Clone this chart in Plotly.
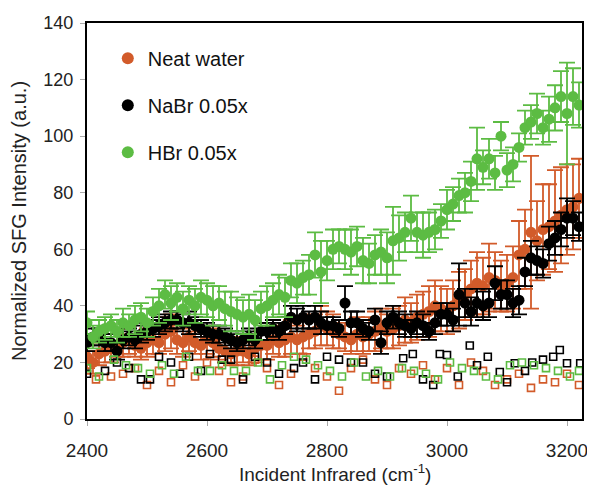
import plotly.graph_objects as go

x_ir = [2400, 2410, 2420, 2430, 2440, 2450, 2460, 2470, 2480, 2490,
        2500, 2510, 2520, 2530, 2540, 2550, 2560, 2570, 2580, 2590,
        2600, 2610, 2620, 2630, 2640, 2650, 2660, 2670, 2680, 2690,
        2700, 2710, 2720, 2730, 2740, 2750, 2760, 2770, 2780, 2790,
        2800, 2810, 2820, 2830, 2840, 2850, 2860, 2870, 2880, 2890,
        2900, 2910, 2920, 2930, 2940, 2950, 2960, 2970, 2980, 2990,
        3000, 3010, 3020, 3030, 3040, 3050, 3060, 3070, 3080, 3090,
        3100, 3110, 3120, 3130, 3140, 3150, 3160, 3170, 3180, 3190,
        3200, 3210, 3220]

water = [22, 20, 23, 24, 25, 26, 27, 28, 26, 25,
         27, 28, 27, 30, 31, 28, 27, 29, 27, 26,
         28, 27, 25, 24, 23, 24, 24, 23, 25, 26,
         26, 28, 27, 28, 29, 28, 29, 30, 31, 33,
         32, 31, 30, 29, 28, 30, 29, 30, 31, 32,
         31, 32, 33, 35, 34, 36, 37, 38, 40, 39,
         38, 40, 42, 44, 46, 48, 47, 50, 49, 47,
         48, 50, 58, 60, 66, 63, 67, 68, 70, 72,
         74, 75, 78]
water_err = [4, 4, 4, 4, 5, 4, 5, 5, 4, 4,
             5, 5, 4, 6, 6, 5, 5, 5, 4, 5,
             5, 5, 4, 4, 4, 5, 4, 4, 5, 5,
             5, 5, 5, 6, 6, 5, 6, 5, 6, 7,
             6, 6, 5, 5, 5, 6, 6, 6, 7, 7,
             6, 7, 7, 8, 7, 8, 8, 9, 9, 8,
             8, 9, 10, 9, 10, 11, 10, 12, 10, 9,
             10, 11, 12, 14, 27, 14, 16, 15, 18, 17,
             16, 15, 14]

nabr = [27, 29, 29, 27, 27, 24, 28, 29, 28, 30,
        31, 32, 33, 34, 35, 35, 34, 34, 33, 32,
        31, 30, 30, 29, 28, 27, 28, 29, 28, 31,
        31, 32, 31, 33, 36, 35, 36, 35, 36, 34,
        33, 33, 32, 41, 34, 34, 32, 31, 35, 27,
        34, 36, 34, 33, 32, 34, 33, 31, 34, 37,
        37, 35, 44, 41, 38, 41, 40, 41, 48, 44,
        44, 41, 42, 52, 57, 56, 55, 62, 64, 67,
        71, 71, 68]
nabr_err = [3, 3, 3, 3, 3, 3, 3, 3, 3, 3,
            3, 3, 3, 3, 3, 3, 3, 4, 3, 3,
            3, 3, 3, 3, 3, 3, 3, 3, 3, 3,
            3, 3, 3, 3, 4, 4, 4, 3, 4, 4,
            3, 3, 3, 6, 4, 4, 3, 3, 4, 4,
            4, 4, 4, 4, 3, 4, 4, 3, 4, 4,
            4, 4, 11, 5, 5, 5, 5, 5, 6, 5,
            5, 5, 5, 5, 6, 5, 5, 6, 6, 6,
            7, 6, 5]

hbr = [34, 29, 31, 32, 33, 31, 34, 33, 35, 36,
       34, 38, 40, 44, 41, 43, 39, 42, 40, 43,
       42, 40, 41, 39, 38, 37, 36, 37, 35, 39,
       40, 42, 44, 43, 49, 48, 50, 51, 58, 52,
       56, 60, 61, 60, 59, 61, 56, 55, 58, 59,
       57, 63, 64, 66, 71, 66, 65, 66, 67, 70,
       74, 76, 79, 80, 84, 92, 89, 92, 87, 100,
       88, 90, 96, 103, 105, 108, 103, 106, 110, 114,
       108, 114, 111]
hbr_err = [4, 4, 4, 4, 4, 4, 5, 4, 5, 5,
           5, 5, 6, 5, 6, 5, 6, 5, 6, 6,
           6, 7, 6, 6, 7, 6, 6, 7, 7, 6,
           7, 6, 7, 7, 6, 7, 6, 7, 8, 11,
           7, 7, 6, 7, 8, 7, 8, 7, 7, 8,
           9, 12, 8, 7, 8, 7, 8, 7, 7, 6,
           7, 6, 6, 7, 7, 11, 6, 7, 6, 5,
           6, 6, 5, 6, 6, 7, 6, 8, 8, 9,
           18, 10, 8]

x_sq_water = [2400, 2415, 2440, 2460, 2480, 2500, 2520, 2540, 2560, 2580,
              2600, 2620, 2640, 2660, 2680, 2700, 2720, 2740, 2760, 2780,
              2800, 2820, 2840, 2860, 2880, 2900, 2920, 2940, 2960, 2980,
              3000, 3020, 3040, 3060, 3080, 3100, 3120, 3140, 3160, 3180,
              3200, 3220]
sq_water = [19, 14, 15, 16, 18, 12, 17, 13, 19, 15,
            20, 17, 13, 15, 21, 18, 12, 16, 22, 18,
            15, 10, 18, 21, 14, 12, 18, 16, 19, 14,
            18, 12, 20, 17, 12, 14, 16, 11, 14, 13,
            16, 12]

x_sq_nabr = [2400, 2430, 2450, 2470, 2490, 2505, 2520, 2540, 2555, 2570,
             2590, 2605, 2625, 2640, 2660, 2680, 2700, 2720, 2745, 2760,
             2780, 2800, 2820, 2840, 2860, 2880, 2900, 2927, 2943, 2960,
             2977, 2988, 3000, 3018, 3038, 3050, 3068, 3088, 3100, 3113,
             3130, 3142, 3160, 3177, 3188, 3200, 3222]
sq_nabr = [16, 17, 20, 18, 14, 14, 22, 20, 16, 22,
           17, 23, 21, 21, 14, 22, 20, 16, 18, 20,
           14, 22, 21, 20, 20, 16, 15, 21.5, 23, 14,
           12, 23, 22.6, 15, 26, 19, 22, 16.6, 13, 19.7,
           17, 20, 21, 22, 24.4, 19.7, 19.7]

x_sq_hbr = [2400, 2420, 2445, 2465, 2485, 2505, 2525, 2545, 2565, 2585,
            2605, 2625, 2645, 2665, 2685, 2705, 2725, 2745, 2765, 2785,
            2805, 2825, 2845, 2865, 2885, 2905, 2925, 2945, 2965, 2985,
            3005, 3025, 3045, 3065, 3085, 3105, 3125, 3145, 3165, 3185,
            3205, 3220]
sq_hbr = [18, 15, 21, 19, 18, 16, 19, 16, 22, 17,
          17, 19, 17, 17, 20, 14, 19, 22, 21, 19,
          17, 15, 20, 15, 17, 15, 18, 17, 16, 14,
          20, 18, 17, 15, 14, 19, 20, 19, 18, 17,
          15, 17]

names = ["Neat water", "NaBr 0.05x", "HBr 0.05x"]
x_title = "Incident Infrared (cm<sup>-1</sup>)"
y_title = "Normalized SFG Intensity (a.u.)"
ORANGE = "#d25b2a"
BLACK = "#000000"
GREEN = "#5cbc43"

fig = go.Figure()

for i, (yv, ev, col, nm) in enumerate([(water, water_err, ORANGE, names[0]),
                                         (nabr, nabr_err, BLACK, names[1]),
                                         (hbr, hbr_err, GREEN, names[2])]):
    fig.add_trace(go.Scatter(
        x=x_ir, y=yv, mode="markers", name=nm, legendgroup="g%d" % i,
        marker=dict(color=col, size=11, line=dict(width=0)),
        error_y=dict(type="data", array=ev, visible=True, color=col,
                     thickness=1.8, width=8),
    ))

for xs, ys, col in [(x_sq_water, sq_water, ORANGE),
                    (x_sq_nabr, sq_nabr, BLACK),
                    (x_sq_hbr, sq_hbr, GREEN)]:
    fig.add_trace(go.Scatter(
        x=xs, y=ys, mode="markers", showlegend=False,
        marker=dict(symbol="square-open", color=col, size=7,
                    line=dict(width=1.6, color=col)),
    ))

fig.add_annotation(text=x_title, xref="paper", yref="paper", x=0.5, y=-0.136,
                   xanchor="center", yanchor="middle", showarrow=False,
                   font=dict(size=19, color="#222"))

fig.update_layout(
    width=587, height=477,
    margin=dict(l=79, r=13, t=15, b=66, pad=0),
    paper_bgcolor="white", plot_bgcolor="white",
    font=dict(family="Liberation Sans, Arial, sans-serif", size=18, color="#222"),
    showlegend=True,
    legend=dict(x=0.042, y=0.96, xanchor="left", yanchor="top",
                bgcolor="rgba(0,0,0,0)", font=dict(size=20, color="#111"),
                tracegroupgap=18, itemsizing="constant"),
    xaxis=dict(range=[2400, 3225], tickvals=[2400, 2600, 2800, 3000, 3200],
               automargin=False,
               showgrid=False, zeroline=False, showline=True, linecolor="black",
               linewidth=2, mirror=True, ticks="outside", ticklen=5,
               tickcolor="#aaa", tickfont=dict(size=19), ticklabelstandoff=8),
    yaxis=dict(range=[0, 140], tickvals=[0, 20, 40, 60, 80, 100, 120, 140],
               automargin=False,
               showgrid=False, zeroline=False, showline=True, linecolor="black",
               linewidth=2, mirror=True, ticks="outside", ticklen=5,
               tickcolor="#aaa", tickfont=dict(size=18), ticklabelstandoff=3,
               title=dict(text=y_title, font=dict(size=20), standoff=12)),
)

fig.write_html("out.html")
